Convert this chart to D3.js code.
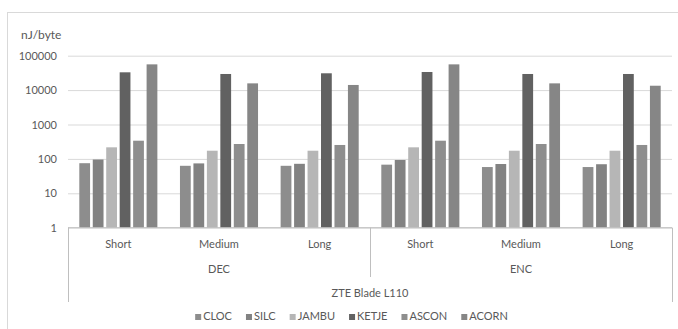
<!DOCTYPE html>
<html>
<head>
<meta charset="utf-8">
<script src="https://cdn.jsdelivr.net/npm/d3@7"></script>
<style>
  html, body { margin: 0; padding: 0; background: #fff; }
  svg { display: block; font-family: Lato, "Open Sans", sans-serif; }
</style>
</head>
<body>
<svg id="chart" width="678" height="329"></svg>
<script>
// Energy per byte (nJ/byte) of six AEAD ciphers on ZTE Blade L110
const device = "ZTE Blade L110";
const operations = ["DEC", "ENC"];
const lengths = ["Short", "Medium", "Long"];
const seriesNames = ["CLOC", "SILC", "JAMBU", "KETJE", "ASCON", "ACORN"];

// one value per group: DEC Short, DEC Medium, DEC Long, ENC Short, ENC Medium, ENC Long
const CLOC  = [75, 63, 63, 68, 58, 58];
const SILC  = [96, 74, 72, 93, 71, 70];
const JAMBU = [217, 173, 173, 217, 173, 173];
const KETJE = [32900, 29400, 30800, 33600, 29400, 29400];
const ASCON = [338, 271, 254, 338, 271, 254];
const ACORN = [56000, 15700, 14100, 56000, 15700, 13400];

const yTicks = [1, 10, 100, 1000, 10000, 100000];
const yUnit = "nJ/byte";

const seriesValues = [CLOC, SILC, JAMBU, KETJE, ASCON, ACORN];
const colors = ["#8d8d8d", "#828282", "#b6b6b6", "#616161", "#8e8e8e", "#868686"];

const groups = [];
operations.forEach(op => lengths.forEach(len => groups.push(op + "|" + len)));

const svg = d3.select("#chart");
const textColor = "#595959";

// chart area border
svg.append("rect")
  .attr("x", 7.5).attr("y", 12.5)
  .attr("width", 690).attr("height", 330)
  .attr("fill", "#fff").attr("stroke", "#d9d9d9").attr("stroke-width", 1);

const plot = { left: 68, right: 672, top: 55.7, bottom: 227.7 };

const x0 = d3.scaleBand().domain(groups).range([plot.left, plot.right]).padding(0);
const gw = x0.bandwidth();
const x1 = d3.scaleBand().domain(seriesNames).range([11.3, gw - 11.3]).paddingInner(0.2).paddingOuter(0);
const y = d3.scaleLog().domain([1, 100000]).range([plot.bottom, plot.top]);
const color = d3.scaleOrdinal().domain(seriesNames).range(colors);

// gridlines
const grid = svg.append("g").attr("transform", `translate(${plot.left},0)`)
  .call(d3.axisLeft(y).tickValues(yTicks).tickSize(-(plot.right - plot.left)).tickFormat(""));
grid.select(".domain").remove();
grid.selectAll("line").attr("stroke", "#d9d9d9").attr("stroke-width", 1);

// y tick labels
const yAxis = svg.append("g").attr("transform", `translate(${plot.left - 11},0)`)
  .call(d3.axisLeft(y).tickValues(yTicks).tickSize(0).tickPadding(0).tickFormat(d3.format("d")));
yAxis.select(".domain").remove();
yAxis.selectAll("text").attr("fill", textColor).style("font-size", "11px")
  .style("font-family", "Lato, sans-serif");

svg.append("text").attr("x", 21).attr("y", 39)
  .attr("fill", textColor).style("font-size", "12px").text(yUnit);

// bars
const barG = svg.append("g");
seriesNames.forEach((name, si) => {
  barG.selectAll(null)
    .data(seriesValues[si].map((v, gi) => ({ g: groups[gi], v })))
    .join("rect")
    .attr("x", d => x0(d.g) + x1(name))
    .attr("width", x1.bandwidth())
    .attr("y", d => y(d.v))
    .attr("height", d => y(1) - y(d.v))
    .attr("fill", color(name));
});

// multi-level category axis
const axisColor = "#bfbfbf";
const axG = svg.append("g").attr("stroke", axisColor).attr("stroke-width", 1);
const yb = plot.bottom;
const sepX = x0(groups[3]);
axG.append("line").attr("x1", plot.left).attr("x2", plot.right).attr("y1", yb).attr("y2", yb);
axG.append("line").attr("x1", plot.left + 0.5).attr("x2", plot.left + 0.5).attr("y1", yb).attr("y2", 302);
axG.append("line").attr("x1", sepX + 0.5).attr("x2", sepX + 0.5).attr("y1", yb).attr("y2", 277);
axG.append("line").attr("x1", plot.right + 0.5).attr("x2", plot.right + 0.5).attr("y1", yb).attr("y2", 302);

const labels = svg.append("g").attr("fill", textColor).style("font-size", "11px").attr("text-anchor", "middle");
groups.forEach(g => {
  labels.append("text").attr("x", x0(g) + gw / 2).attr("y", 248).text(g.split("|")[1]);
});
operations.forEach((op, i) => {
  const start = x0(groups[i * 3]);
  const end = x0(groups[i * 3 + 2]) + gw;
  labels.append("text").attr("x", (start + end) / 2).attr("y", 273).text(op);
});
labels.append("text").attr("x", (plot.left + plot.right) / 2).attr("y", 297).text(device);

// legend
const leg = svg.append("g").style("font-size", "11px");
const items = leg.selectAll("g").data(seriesNames).join("g");
items.append("rect").attr("width", 6).attr("height", 6).attr("y", -6).attr("fill", d => color(d));
items.append("text").attr("x", 8).attr("y", 0).attr("fill", textColor).text(d => d);
let cx = 0;
items.each(function () {
  const w = d3.select(this).select("text").node().getComputedTextLength() + 8;
  d3.select(this).attr("transform", `translate(${cx},0)`);
  cx += w + 14;
});
const total = cx - 14;
leg.attr("transform", `translate(${351.5 - total / 2},320)`);
</script>
</body>
</html>
